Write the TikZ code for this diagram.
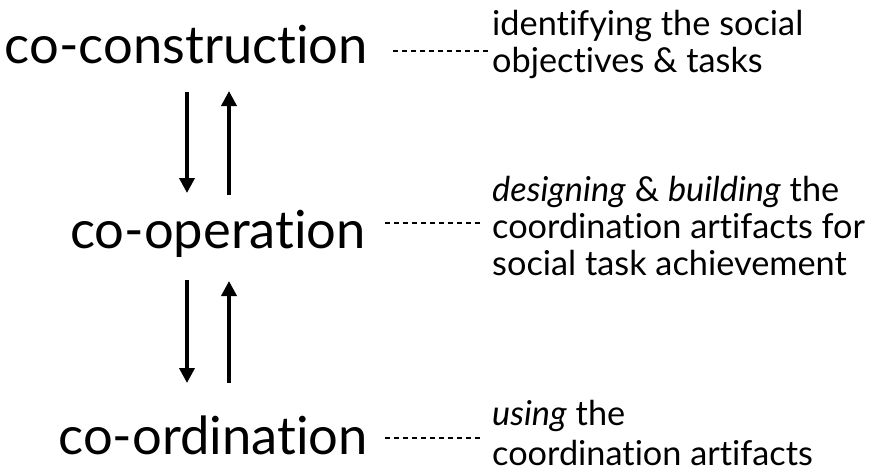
\documentclass[tikz,border=0pt]{standalone}
\usepackage{fontspec}
\setmainfont[Ligatures=NoCommon]{Lato}
\usetikzlibrary{arrows.meta}
\begin{document}
\begin{tikzpicture}[x=1pt,y=-1pt,
  big/.style={font=\fontsize{52.5}{60}\selectfont, inner sep=0pt, anchor=base east},
  small/.style={font=\fontsize{34.3}{40}\selectfont, inner sep=0pt, anchor=base west},
  dashline/.style={line width=1.4pt, dash pattern=on 5pt off 4pt},
  flow/.style={line width=3.6pt, -{Triangle[width=15pt,length=15pt]}}]
\useasboundingbox (0,0) rectangle (874,472);
% left labels
\node[big] (cc) at (368,63) {co-construction};
\node[big] (cp) at (366,248) {co-operation};
\node[big] (cd) at (368,454) {co-ordination};
% right texts
\node[small] (t1) at (492,35) {identifying the social};
\node[small] (t2) at (492,72) {objectives \& tasks};
\node[small] (m1) at (492,201) {\textit{designing} \& \textit{building} the};
\node[small] (m2) at (492,238) {coordination artifacts for};
\node[small] (m3) at (492,275) {social task achievement};
\node[small] (b1) at (492,425) {\textit{using} the};
\node[small] (b2) at (492,465) {coordination artifacts};
% dashed connectors
\coordinate (d1a) at (393,51); \coordinate (d1b) at (491,51);
\coordinate (d2a) at (385,223); \coordinate (d2b) at (483,223);
\coordinate (d3a) at (385,438); \coordinate (d3b) at (483,438);
\draw[dashline] (d1a) -- (d1b);
\draw[dashline] (d2a) -- (d2b);
\draw[dashline] (d3a) -- (d3b);
% arrows
\coordinate (a1s) at (187,92);  \coordinate (a1e) at (187,193);
\coordinate (a2s) at (229,195); \coordinate (a2e) at (229,91);
\coordinate (a3s) at (187,280); \coordinate (a3e) at (187,383);
\coordinate (a4s) at (229,383); \coordinate (a4e) at (229,281);
\draw[flow] (a1s) -- (a1e);
\draw[flow] (a2s) -- (a2e);
\draw[flow] (a3s) -- (a3e);
\draw[flow] (a4s) -- (a4e);
\end{tikzpicture}
\end{document}
